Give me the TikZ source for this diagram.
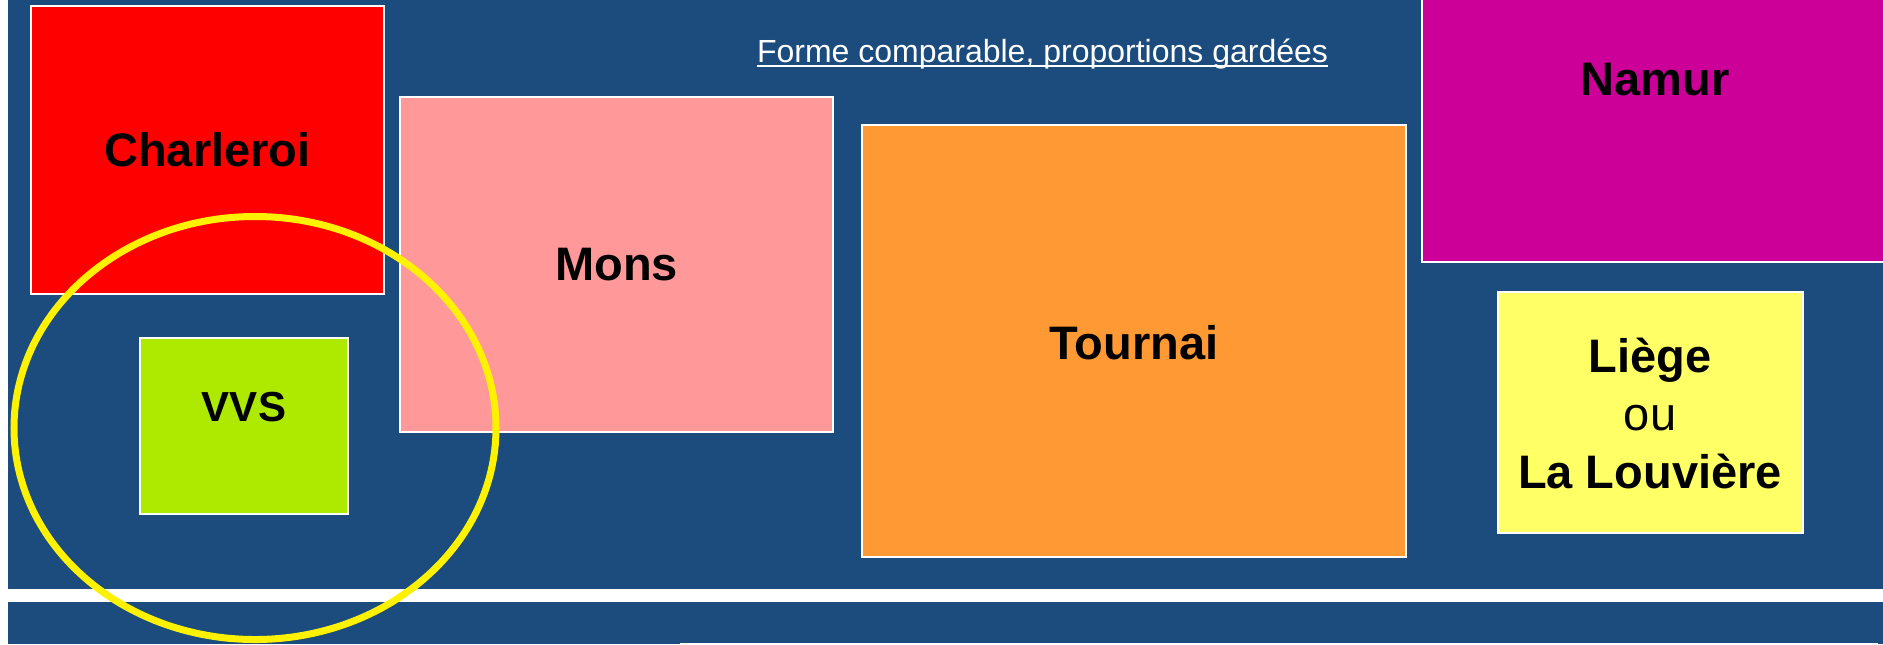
\documentclass[tikz,border=0pt]{standalone}
\usepackage{fontspec}
\setmainfont{Liberation Sans}
\usetikzlibrary{calc}
\tikzset{%
  box/.style={fill=#1,draw=white,line width=0.6pt},
  box/.default=red,
  city/.style={font=\fontsize{23.5}{29}\selectfont\bfseries,text=black,align=center,inner sep=0pt}
}
\definecolor{bg}{RGB}{27,76,125}
\definecolor{cCharleroi}{RGB}{255,0,0}
\definecolor{cMons}{RGB}{255,153,153}
\definecolor{cTournai}{RGB}{255,153,51}
\definecolor{cNamur}{RGB}{204,0,153}
\definecolor{cLiege}{RGB}{255,255,102}
\definecolor{cVVS}{RGB}{174,234,0}
\begin{document}
\begin{tikzpicture}[x=0.5pt,y=-0.5pt]
  \useasboundingbox (0,0) rectangle (1883,644);
  \fill[white] (0,0) rectangle (1883,644);
  \fill[bg] (8,0) rectangle (1883,644);
  %
  \node[anchor=base,inner sep=0pt,text=white,font=\fontsize{16}{19}\selectfont] (title) at (1042.5,62) {Forme comparable, proportions gardées};
  \draw[white,line width=0.8pt] ($(title.base west)+(0,4)$) -- ($(title.base east)+(0,4)$);
  %
  \filldraw[box=cCharleroi] (31,6) rectangle (384,294);
  \node[city] (charleroi) at (207.5,150) {Charleroi};
  \filldraw[box=cMons] (400,97) rectangle (833,432);
  \node[city] (mons) at (616.5,265) {Mons};
  \filldraw[box=cTournai] (862,125) rectangle (1406,557);
  \node[city] (tournai) at (1134,343) {Tournai};
  \filldraw[box=cNamur] (1422,-10) rectangle (1895,262);
  \node[city] (namur) at (1655,80) {Namur};
  \filldraw[box=cLiege] (1498,292) rectangle (1803,533);
  \node[city] (liege) at (1650,413) {Liège\\{\mdseries ou}\\La Louvière};
  \filldraw[box=cVVS] (140,338) rectangle (348,514);
  \node[city,font=\fontsize{21}{25}\selectfont\bfseries] (vvs) at (244,407) {VVS};
  %
  \fill[white] (8,589) rectangle (1883,602);
  \draw[white,line width=0.8pt] (680,643.5) -- (1878,643.5);
  %
  \draw[yellow,line width=3.5pt] (255,428) ellipse [x radius=120.5pt,y radius=105.75pt];
\end{tikzpicture}
\end{document}
